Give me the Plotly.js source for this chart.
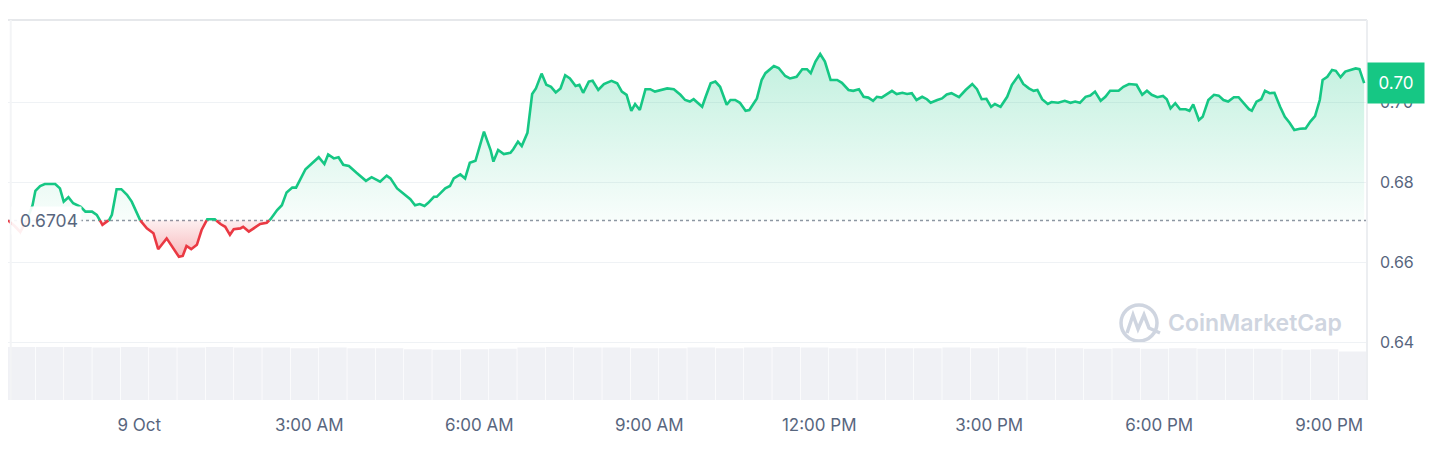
<!DOCTYPE html>
<html>
<head>
<meta charset="utf-8">
<script src="https://cdn.plot.ly/plotly-3.0.1.min.js"></script>
<style>
  html, body { margin: 0; padding: 0; background: #ffffff; }
  #chart { width: 1440px; height: 452px; }
</style>
</head>
<body>
<div id="chart"></div>
<script>
// ---- Data ----
// Minutes relative to 9 Oct 00:00 (negative = 8 Oct evening)
const minutes = [
  -139,-132,-126,-120,-113,-110,-105,-100,-94,-89,-84,-80,-75,-70,-62,-57,-50,-45,-39,-32,
  -29,-24,-19,-13,-8,0,8,15,20,29,36,42,46,50,55,61,66,72,80,86,
  91,96,100,107,110,116,123,128,135,139,146,151,156,162,166,170,176,183,190,196,
  200,206,211,216,222,230,240,246,255,262,266,273,282,287,292,297,302,306,312,315,
  324,329,333,340,345,350,356,365,372,375,380,386,393,396,401,405,411,416,420,426,
  431,436,441,446,451,456,462,466,470,476,480,486,492,500,506,511,516,521,525,530,
  536,541,546,552,559,566,573,578,583,587,592,596,600,605,610,615,622,626,631,636,
  642,646,654,659,663,672,677,684,689,696,702,707,711,716,721,726,732,739,744,751,
  756,762,767,772,777,781,786,792,797,802,808,813,818,823,829,834,838,845,850,855,
  860,868,875,882,887,892,897,902,906,912,919,924,931,936,942,947,951,956,962,966,
  973,980,986,991,996,1002,1007,1012,1018,1023,1028,1037,1042,1048,1056,1062,1067,1072,1078,1084,
  1088,1092,1097,1102,1108,1112,1116,1122,1126,1132,1138,1143,1148,1153,1159,1164,1169,1175,1178,1183,
  1188,1192,1197,1202,1208,1213,1218,1223,1229,1235,1240,1245,1250,1253,1258,1263,1267,1272,1277,1282,
  1288,1292,1297
];
const prices = [
  0.6704,0.6690,0.6675,0.6700,0.6742,0.6778,0.6790,0.6795,0.6794,0.6795,0.6784,0.6751,0.6762,0.6747,0.6738,0.6726,0.6726,0.6718,0.6693,0.6705,
  0.6718,0.6782,0.6782,0.6768,0.6751,0.6707,0.6684,0.6672,0.6632,0.6659,0.6634,0.6613,0.6615,0.6640,0.6632,0.6643,0.6680,0.6707,0.6707,0.6695,
  0.6688,0.6668,0.6682,0.6684,0.6688,0.6676,0.6687,0.6695,0.6698,0.6707,0.6730,0.6742,0.6774,0.6786,0.6786,0.6805,0.6832,0.6847,0.6862,0.6845,
  0.6869,0.6859,0.6862,0.6843,0.6840,0.6823,0.6803,0.6812,0.6801,0.6816,0.6809,0.6784,0.6768,0.6757,0.6742,0.6745,0.6740,0.6748,0.6763,0.6763,
  0.6784,0.6790,0.6809,0.6819,0.6809,0.6848,0.6853,0.6926,0.6880,0.6851,0.6880,0.6870,0.6873,0.6882,0.6901,0.6890,0.6923,0.7020,0.7034,0.7071,
  0.7043,0.7038,0.7024,0.7034,0.7067,0.7059,0.7040,0.7043,0.7023,0.7051,0.7053,0.7030,0.7045,0.7053,0.7047,0.7026,0.7018,0.6978,0.6995,0.6980,
  0.7032,0.7032,0.7026,0.7030,0.7034,0.7032,0.7018,0.7005,0.7001,0.7007,0.6997,0.6988,0.7015,0.7047,0.7051,0.7038,0.6993,0.7005,0.7005,0.6998,
  0.6978,0.6980,0.7009,0.7055,0.7072,0.7090,0.7085,0.7065,0.7059,0.7063,0.7082,0.7082,0.7072,0.7101,0.7120,0.7101,0.7055,0.7055,0.7048,0.7030,
  0.7028,0.7032,0.7013,0.7011,0.7003,0.7013,0.7011,0.7020,0.7028,0.7020,0.7023,0.7020,0.7022,0.7005,0.7013,0.7007,0.6998,0.7005,0.7009,0.7019,
  0.7022,0.7012,0.7030,0.7045,0.7032,0.7007,0.7008,0.6988,0.6995,0.6988,0.7013,0.7043,0.7066,0.7045,0.7034,0.7028,0.7030,0.7007,0.6995,0.7000,
  0.6998,0.7003,0.6998,0.7001,0.6998,0.7013,0.7016,0.7026,0.7003,0.7013,0.7028,0.7028,0.7038,0.7045,0.7043,0.7018,0.7028,0.7018,0.7012,0.7015,
  0.7007,0.6984,0.6997,0.6982,0.6982,0.6978,0.6994,0.6955,0.6963,0.7005,0.7018,0.7016,0.7005,0.7001,0.7012,0.7012,0.6997,0.6982,0.6978,0.7001,
  0.7007,0.7028,0.7022,0.7023,0.6988,0.6963,0.6948,0.6930,0.6933,0.6934,0.6951,0.6965,0.7005,0.7055,0.7063,0.7080,0.7078,0.7062,0.7076,0.7080,
  0.7084,0.7082,0.7047
];
const openPrice = 0.6704;

// Volume (relative, 30-minute buckets)
const volMinutes = [
  -125,-95,-65,-35,-5,25,55,85,115,145,175,205,235,265,295,325,355,385,415,445,
  475,505,535,565,595,625,655,685,715,745,775,805,835,865,895,925,955,985,1015,1045,
  1075,1105,1135,1165,1195,1225,1255,1285
];
const volumes = [
  0.93,0.93,0.93,0.92,0.93,0.92,0.92,0.93,0.92,0.92,0.91,0.92,0.91,0.91,0.89,0.88,0.89,0.90,0.92,0.93,
  0.92,0.92,0.91,0.91,0.92,0.91,0.92,0.93,0.92,0.91,0.91,0.91,0.91,0.92,0.91,0.92,0.91,0.91,0.90,0.91,
  0.90,0.91,0.90,0.90,0.90,0.88,0.89,0.85
];

const xTickMinutes = [0,180,360,540,720,900,1080,1260];
const xTickLabels = ['9 Oct','3:00 AM','6:00 AM','9:00 AM','12:00 PM','3:00 PM','6:00 PM','9:00 PM'];
const yTickVals = [0.64,0.66,0.68,0.70];
const xRangeMinutes = [-139, 1300];
const yRange = [0.6255, 0.7205];

// ---- Helpers ----
function toDate(m) {
  const d = new Date(Date.UTC(2024, 9, 9, 0, 0, 0) + Math.round(m * 60000));
  return d.toISOString().slice(0, 23).replace('T', ' ');
}

// Split the price series into runs above / below the opening price
function splitRuns() {
  const up = [], dn = [];
  let cur = [[minutes[0], prices[0]]];
  let curUp = prices[0] >= openPrice;
  for (let i = 1; i < prices.length; i++) {
    const v = prices[i], m = minutes[i];
    const isUp = v >= openPrice;
    if (isUp === curUp) { cur.push([m, v]); continue; }
    const pv = prices[i - 1], pm = minutes[i - 1];
    const t = pm + (openPrice - pv) / (v - pv) * (m - pm);
    cur.push([t, openPrice]);
    (curUp ? up : dn).push(cur);
    cur = [[t, openPrice], [m, v]];
    curUp = isUp;
  }
  (curUp ? up : dn).push(cur);
  return { up, dn };
}
const runs = splitRuns();

function lineXY(segs) {
  const x = [], y = [];
  segs.forEach(s => { s.forEach(p => { x.push(toDate(p[0])); y.push(p[1]); }); x.push(null); y.push(null); });
  return { x, y };
}
function fillXY(segs) {
  const x = [], y = [];
  segs.forEach(s => {
    if (s.length < 2) return;
    s.forEach(p => { x.push(toDate(p[0])); y.push(p[1]); });
    x.push(toDate(s[s.length - 1][0])); y.push(openPrice);
    x.push(toDate(s[0][0])); y.push(openPrice);
    x.push(null); y.push(null);
  });
  return { x, y };
}

const GREEN = '#16c784', RED = '#ea3943';
const upLine = lineXY(runs.up), dnLine = lineXY(runs.dn);
const upFill = fillXY(runs.up), dnFill = fillXY(runs.dn);

const traces = [
  {
    type: 'bar', x: volMinutes.map(toDate), y: volumes, yaxis: 'y2',
    marker: { color: '#f0f1f5', line: { width: 0 } }, hoverinfo: 'skip', showlegend: false
  },
  {
    type: 'scatter', mode: 'lines', x: upFill.x, y: upFill.y, fill: 'toself',
    line: { width: 0, color: 'rgba(0,0,0,0)' },
    fillgradient: { type: 'vertical', start: openPrice, stop: 0.711,
      colorscale: [[0, 'rgba(22,199,132,0.03)'], [1, 'rgba(22,199,132,0.26)']] },
    hoverinfo: 'skip', showlegend: false
  },
  {
    type: 'scatter', mode: 'lines', x: dnFill.x, y: dnFill.y, fill: 'toself',
    line: { width: 0, color: 'rgba(0,0,0,0)' },
    fillgradient: { type: 'vertical', start: 0.6610, stop: openPrice,
      colorscale: [[0, 'rgba(234,57,67,0.36)'], [1, 'rgba(234,57,67,0.08)']] },
    hoverinfo: 'skip', showlegend: false
  },
  {
    type: 'scatter', mode: 'lines', x: upLine.x, y: upLine.y, connectgaps: false,
    line: { color: GREEN, width: 2.6 }, hoverinfo: 'skip', showlegend: false
  },
  {
    type: 'scatter', mode: 'lines', x: dnLine.x, y: dnLine.y, connectgaps: false,
    line: { color: RED, width: 2.6 }, hoverinfo: 'skip', showlegend: false
  }
];

// pixel -> paper helpers for decorations (plot area: x 8..1367, y 20..400)
const PL = 8, PR = 1367, PT = 20, PB = 400;
const px = v => (v - PL) / (PR - PL);
const py = v => (PB - v) / (PB - PT);

const lastVal = prices[prices.length - 1];
const FONT = 'Inter, "Noto Sans", sans-serif';
const WM = '#cfd5e0';

const layout = {
  width: 1440, height: 452,
  margin: { l: PL, r: 1440 - PR, t: PT, b: 452 - PB, pad: 0 },
  paper_bgcolor: '#ffffff', plot_bgcolor: '#ffffff',
  font: { family: FONT, color: '#58667e' },
  showlegend: false,
  bargap: 0.025,
  xaxis: {
    type: 'date', range: xRangeMinutes.map(toDate),
    tickvals: xTickMinutes.map(toDate), ticktext: xTickLabels,
    showgrid: false, zeroline: false, showline: false, ticks: '',
    tickfont: { size: 17, color: '#58667e', family: FONT },
    ticklabelstandoff: 13, fixedrange: true
  },
  yaxis: {
    side: 'right', range: yRange, tickvals: yTickVals, tickformat: '.2f',
    showgrid: true, gridcolor: '#eff2f5', gridwidth: 1,
    zeroline: false, showline: false, ticks: '',
    tickfont: { size: 16, color: '#58667e', family: FONT },
    ticklabelstandoff: 12, fixedrange: true
  },
  yaxis2: {
    overlaying: 'y', side: 'left', range: [0, 6.667], visible: false, fixedrange: true
  },
  shapes: [
    { type: 'line', xref: 'paper', yref: 'y', x0: 0, x1: 1, y0: openPrice, y1: openPrice,
      line: { color: '#8f96a3', width: 1.5, dash: 'dot' }, layer: 'below' },
    { type: 'line', xref: 'paper', yref: 'paper', x0: 0, x1: 1, y0: 1, y1: 1,
      line: { color: '#e6e8eb', width: 2 } },
    { type: 'line', xref: 'paper', yref: 'paper', x0: 1, x1: 1, y0: 0, y1: 1,
      line: { color: '#eceef1', width: 2 } },
    { type: 'line', xref: 'paper', yref: 'paper', x0: 0.002, x1: 0.002, y0: 0, y1: 1,
      line: { color: '#f3f4f6', width: 2 } },
    // CoinMarketCap watermark logo
    { type: 'circle', xref: 'paper', yref: 'paper',
      x0: px(1121), x1: px(1157), y0: py(341), y1: py(305),
      line: { color: WM, width: 3.5 }, layer: 'below' },
    { type: 'path', xref: 'paper', yref: 'paper',
      path: `M ${px(1127)} ${py(333)} L ${px(1133)} ${py(315)} L ${px(1138)} ${py(329)} L ${px(1144)} ${py(315)} L ${px(1149)} ${py(328)} L ${px(1160)} ${py(333)}`,
      line: { color: WM, width: 3.5 }, layer: 'below' }
  ],
  annotations: [
    { xref: 'paper', yref: 'y', x: 0, y: openPrice, xanchor: 'left', yanchor: 'middle',
      xshift: 3, text: '\u00a0' + openPrice.toFixed(4), showarrow: false,
      font: { size: 17.5, color: '#58667e', family: FONT },
      bgcolor: 'rgba(255,255,255,0.92)', borderpad: 3 },
    { xref: 'paper', yref: 'y', x: 1, y: lastVal, xanchor: 'left', yanchor: 'middle',
      text: lastVal.toFixed(2), showarrow: false, width: 52, height: 36, borderpad: 2,
      font: { size: 17, color: '#ffffff', family: FONT },
      bgcolor: GREEN },
    { xref: 'paper', yref: 'paper', x: px(1166), y: py(323), xanchor: 'left', yanchor: 'middle',
      text: 'CoinMarketCap', showarrow: false,
      font: { size: 23, color: WM, family: FONT, weight: 600 } }
  ]
};

Plotly.newPlot('chart', traces, layout, { displayModeBar: false, staticPlot: true });
</script>
</body>
</html>
